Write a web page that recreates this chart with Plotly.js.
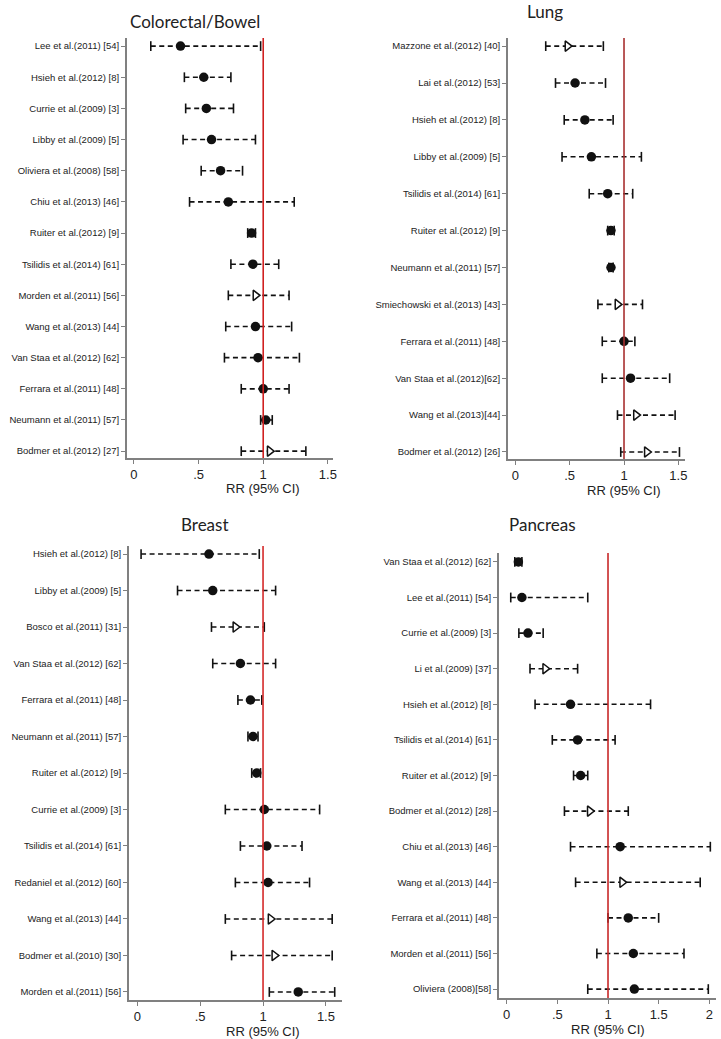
<!DOCTYPE html>
<html><head><meta charset="utf-8">
<script src="https://cdn.plot.ly/plotly-3.0.1.min.js"></script>
<style>html,body{margin:0;padding:0;background:#fff}#chart{width:721px;height:1039px}</style>
</head><body><div id="chart"></div>
<script>
// ---- Colorectal/Bowel ----
const crcLabels = ["Lee et al.(2011) [54]","Hsieh et al.(2012) [8]","Currie et al.(2009) [3]","Libby et al.(2009) [5]","Oliviera et al.(2008) [58]","Chiu et al.(2013) [46]","Ruiter et al.(2012) [9]","Tsilidis et al.(2014) [61]","Morden et al.(2011) [56]","Wang et al.(2013) [44]","Van Staa et al.(2012) [62]","Ferrara et al.(2011) [48]","Neumann et al.(2011) [57]","Bodmer et al.(2012) [27]"];
const crcRR = [0.36,0.54,0.56,0.60,0.67,0.73,0.91,0.92,0.94,0.94,0.96,1.00,1.02,1.05];
const crcLo = [0.13,0.39,0.40,0.38,0.52,0.43,0.88,0.75,0.73,0.71,0.70,0.83,0.98,0.83];
const crcHi = [0.98,0.75,0.77,0.94,0.84,1.24,0.94,1.12,1.20,1.22,1.28,1.20,1.07,1.33];
const crcOpen = [0,0,0,0,0,0,0,0,1,0,0,0,0,1];

// ---- Lung ----
const lungLabels = ["Mazzone et al.(2012) [40]","Lai et al.(2012) [53]","Hsieh et al.(2012) [8]","Libby et al.(2009) [5]","Tsilidis et al.(2014) [61]","Ruiter et al.(2012) [9]","Neumann et al.(2011) [57]","Smiechowski et al.(2013) [43]","Ferrara et al.(2011) [48]","Van Staa et al.(2012)[62]","Wang et al.(2013)[44]","Bodmer et al.(2012) [26]"];
const lungRR = [0.48,0.55,0.64,0.70,0.85,0.88,0.88,0.94,1.00,1.06,1.11,1.21];
const lungLo = [0.28,0.37,0.45,0.43,0.68,0.85,0.86,0.76,0.80,0.80,0.94,0.97];
const lungHi = [0.81,0.83,0.90,1.16,1.08,0.91,0.90,1.17,1.10,1.42,1.47,1.51];
const lungOpen = [1,0,0,0,0,0,0,1,0,0,1,1];

// ---- Breast ----
const brLabels = ["Hsieh et al.(2012) [8]","Libby et al.(2009) [5]","Bosco et al.(2011) [31]","Van Staa et al.(2012) [62]","Ferrara et al.(2011) [48]","Neumann et al.(2011) [57]","Ruiter et al.(2012) [9]","Currie et al.(2009) [3]","Tsilidis et al.(2014) [61]","Redaniel et al.(2012) [60]","Wang et al.(2013) [44]","Bodmer et al.(2010) [30]","Morden et al.(2011) [56]"];
const brRR = [0.57,0.60,0.78,0.82,0.90,0.92,0.95,1.01,1.03,1.04,1.06,1.09,1.28];
const brLo = [0.03,0.32,0.59,0.60,0.80,0.88,0.91,0.70,0.82,0.78,0.70,0.75,1.05];
const brHi = [0.97,1.10,1.01,1.10,0.99,0.96,0.98,1.45,1.31,1.37,1.55,1.55,1.57];
const brOpen = [0,0,1,0,0,0,0,0,0,0,1,1,0];

// ---- Pancreas ----
const panLabels = ["Van Staa et al.(2012) [62]","Lee et al.(2011) [54]","Currie et al.(2009) [3]","Li et al.(2009) [37]","Hsieh et al.(2012) [8]","Tsilidis et al.(2014) [61]","Ruiter et al.(2012) [9]","Bodmer et al.(2012) [28]","Chiu et al.(2013) [46]","Wang et al.(2013) [44]","Ferrara et al.(2011) [48]","Morden et al.(2011) [56]","Oliviera (2008)[58]"];
const panRR = [0.115,0.15,0.21,0.38,0.63,0.70,0.73,0.82,1.12,1.14,1.20,1.25,1.26];
const panLo = [0.08,0.04,0.12,0.23,0.28,0.45,0.66,0.57,0.63,0.68,1.00,0.89,0.80];
const panHi = [0.15,0.80,0.36,0.70,1.42,1.07,0.80,1.20,2.01,1.91,1.50,1.75,1.99];
const panOpen = [0,0,0,1,0,0,0,1,0,1,0,0,0];

const FONT = "Arial, 'Liberation Sans', sans-serif";
const panels = [
  {title:"Colorectal/Bowel", labels:crcLabels, rr:crcRR, lo:crcLo, hi:crcHi, open:crcOpen,
   xd:[127/721,333/721], yd:[1-458/1039,1-38/1039], xr:[-0.054,1.54], pad:[0.22,0.26], ticks:[0,0.5,1,1.5], ttext:["0",".5","1","1.5"], red:"#d02020", tx:195, ty:21, lf:9.5},
  {title:"Lung", labels:lungLabels, rr:lungRR, lo:lungLo, hi:lungHi, open:lungOpen,
   xd:[508/721,685/721], yd:[1-459/1039,1-38/1039], xr:[-0.067,1.561], pad:[0.19,0.22], ticks:[0,0.5,1,1.5], ttext:["0",".5","1","1.5"], red:"#a83030", tx:545, ty:12, lf:9.5},
  {title:"Breast", labels:brLabels, rr:brRR, lo:brLo, hi:brHi, open:brOpen,
   xd:[129/721,342/721], yd:[1-1000/1039,1-546/1039], xr:[-0.066,1.628], pad:[0.22,0.22], ticks:[0,0.5,1,1.5], ttext:["0",".5","1","1.5"], red:"#d42a2a", tx:205, ty:524, lf:9.5},
  {title:"Pancreas", labels:panLabels, rr:panRR, lo:panLo, hi:panHi, open:panOpen,
   xd:[499/721,716/721], yd:[1-998/1039,1-553/1039], xr:[-0.076,2.066], pad:[0.25,0.25], ticks:[0,0.5,1,1.5,2], ttext:["0",".5","1","1.5","2"], red:"#c82828", tx:542, ty:524, lf:9.5}
];

const traces = [], shapes = [], annotations = [];
const layout = {width:721, height:1039, margin:{l:0,r:0,t:0,b:0}, showlegend:false,
  paper_bgcolor:"#fff", plot_bgcolor:"rgba(0,0,0,0)", font:{family:FONT, color:"#222"}};

panels.forEach((p, k) => {
  const n = p.labels.length;
  const idx = p.labels.map((_, i) => i);
  const xa = "x" + (k === 0 ? "" : k + 1), ya = "y" + (k === 0 ? "" : k + 1);
  const xk = "xaxis" + (k === 0 ? "" : k + 1), yk = "yaxis" + (k === 0 ? "" : k + 1);
  const lx = [], ly = [];
  idx.forEach(i => { lx.push(p.lo[i], p.hi[i], null); ly.push(i, i, null); });
  traces.push({type:"scatter", mode:"lines", x:lx, y:ly, xaxis:xa, yaxis:ya,
    line:{color:"#111", width:1.6, dash:"5px,3.5px"}, hoverinfo:"skip"});
  traces.push({type:"scatter", mode:"markers", x:p.lo.concat(p.hi), y:idx.concat(idx), xaxis:xa, yaxis:ya,
    marker:{symbol:"line-ns", size:7, line:{width:1.6, color:"#111"}}, hoverinfo:"skip"});
  const ci = idx.filter(i => !p.open[i]);
  traces.push({type:"scatter", mode:"markers", x:ci.map(i => p.rr[i]), y:ci, xaxis:xa, yaxis:ya,
    marker:{symbol:"circle", size:9.5, color:"#111"}});
  const ti = idx.filter(i => p.open[i]);
  traces.push({type:"scatter", mode:"markers", x:ti.map(i => p.rr[i]), y:ti, xaxis:xa, yaxis:ya,
    marker:{symbol:"triangle-right", size:9, color:"#fff", line:{width:1.5, color:"#111"}}});

  layout[xk] = {domain:p.xd, anchor:ya, range:p.xr, showgrid:false, zeroline:false,
    showline:true, linecolor:"#808080", linewidth:1.5, ticks:"outside", ticklen:4, tickcolor:"#808080",
    tickvals:p.ticks, ticktext:p.ttext, tickfont:{family:FONT, size:13, color:"#222"}, fixedrange:true};
  layout[yk] = {domain:p.yd, anchor:xa, range:[n - 1 + p.pad[0], -p.pad[1]], showgrid:false, zeroline:false,
    showline:true, linecolor:"#808080", linewidth:2, ticks:"outside", ticklen:4, tickcolor:"#808080",
    tickvals:idx, ticktext:p.labels, tickfont:{family:FONT, size:p.lf, color:"#222"}, fixedrange:true};
  shapes.push({type:"line", xref:xa, yref:ya + " domain", x0:1, x1:1, y0:0, y1:1,
    line:{color:p.red, width:1.6}});
  annotations.push({text:p.title, xref:"paper", yref:"paper", x:p.tx/721, y:1 - p.ty/1039,
    xanchor:"center", yanchor:"middle", showarrow:false, font:{family:"Lato, sans-serif", size:17, color:"#222"}});
  const ybot = p.yd[0] - 31/1039;
  annotations.push({text:"RR (95% CI)", xref:xa + " domain", yref:"paper",
    x:(1 - p.xr[0]) / (p.xr[1] - p.xr[0]),
    y:ybot, xanchor:"center", yanchor:"middle", showarrow:false, font:{family:FONT, size:13, color:"#222"}});
});
layout.shapes = shapes;
layout.annotations = annotations;
Plotly.newPlot("chart", traces, layout, {staticPlot:true, displayModeBar:false});
</script></body></html>
